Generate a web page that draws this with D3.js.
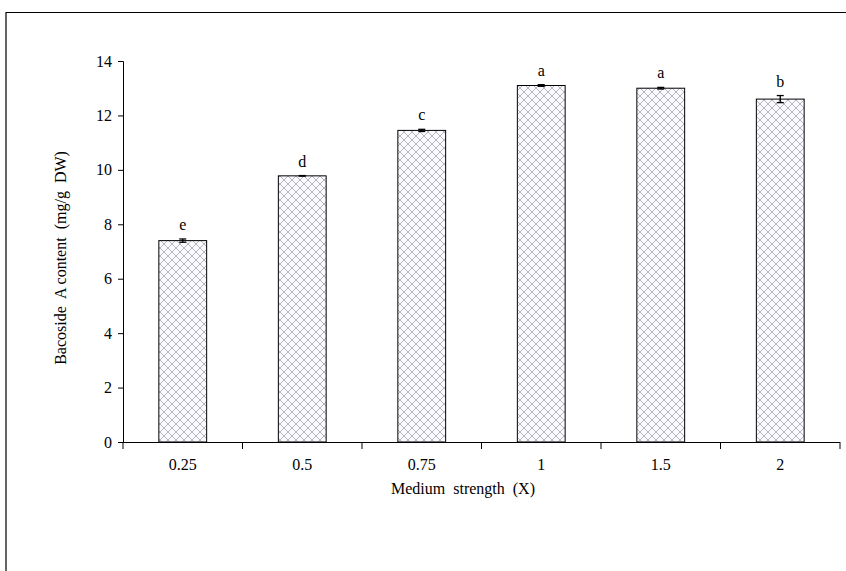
<!DOCTYPE html>
<html>
<head>
<meta charset="utf-8">
<script src="https://cdn.jsdelivr.net/npm/d3@7"></script>
<style>
  body { margin: 0; background: #fff; }
  svg { display: block; }
  text { font-family: "Liberation Serif", "Times New Roman", serif; fill: #000; }
</style>
</head>
<body>
<svg id="chart" width="846" height="571"></svg>
<script>
// Medium strength treatments and Bacoside A content
const categories = ["0.25", "0.5", "0.75", "1", "1.5", "2"];
const values = [7.4, 9.78, 11.45, 13.1, 13.0, 12.6];
const errors = [0.06, 0.01, 0.04, 0.03, 0.03, 0.13];
const letters = ["e", "d", "c", "a", "a", "b"];
const yTicks = [0, 2, 4, 6, 8, 10, 12, 14];

const svg = d3.select("#chart");
const W = 846, H = 571;
const left = 123, right = 840;

// Outer frame: top and left edges
svg.append("path")
  .attr("d", `M6,${H} L6,12.5 L${W},12.5`)
  .attr("fill", "none").attr("stroke", "#000").attr("stroke-width", 1.2);

// Cross-hatch fill for the bars
const defs = svg.append("defs");
const pat = defs.append("pattern")
  .attr("id", "hatch").attr("patternUnits", "userSpaceOnUse")
  .attr("width", 8).attr("height", 8);
pat.append("rect").attr("width", 8).attr("height", 8).attr("fill", "#fafafc");
pat.append("path")
  .attr("d", "M0,0 L8,8 M8,0 L0,8 M-1,7 L1,9 M7,-1 L9,1 M-1,1 L1,-1 M7,9 L9,7")
  .attr("stroke", "#b5b5c6").attr("stroke-width", 1);

const x = d3.scaleBand()
  .domain(categories)
  .range([left, right])
  .paddingInner(0.6).paddingOuter(0.3);

const y = d3.scaleLinear().domain([0, 14]).range([442, 61]);

// Bars
svg.append("g").selectAll("rect").data(values).join("rect")
  .attr("x", (d, i) => x(categories[i]))
  .attr("y", d => y(d))
  .attr("width", x.bandwidth())
  .attr("height", d => y(0) - y(d))
  .attr("fill", "url(#hatch)")
  .attr("stroke", "#000").attr("stroke-width", 1);

// Error bars
const eb = svg.append("g").attr("stroke", "#000").attr("stroke-width", 1.3);
values.forEach((v, i) => {
  const cx = x(categories[i]) + x.bandwidth() / 2;
  const e = errors[i];
  eb.append("line").attr("x1", cx).attr("x2", cx).attr("y1", y(v + e)).attr("y2", y(v - e));
  eb.append("line").attr("x1", cx - 3.5).attr("x2", cx + 3.5).attr("y1", y(v + e)).attr("y2", y(v + e));
  eb.append("line").attr("x1", cx - 3.5).attr("x2", cx + 3.5).attr("y1", y(v - e)).attr("y2", y(v - e));
});

// Significance letters
svg.append("g").selectAll("text").data(values).join("text")
  .attr("x", (d, i) => x(categories[i]) + x.bandwidth() / 2)
  .attr("y", (d, i) => y(d + errors[i]) - 9)
  .attr("text-anchor", "middle")
  .attr("font-size", 16)
  .text((d, i) => letters[i]);

// Y axis
const yAxis = d3.axisLeft(y).tickValues(yTicks).tickSize(5).tickPadding(6).tickFormat(d3.format("d"));
const gy = svg.append("g").attr("transform", `translate(${left},0)`).call(yAxis);
gy.selectAll("text").attr("font-size", 16).attr("font-family", "Liberation Serif, serif").attr("fill", "#000");
gy.selectAll("line, path").attr("stroke", "#000");

// X axis: ticks at category boundaries
const xAxisG = svg.append("g").attr("transform", `translate(0,${y(0)})`);
xAxisG.append("line").attr("x1", left).attr("x2", right).attr("y1", 0.5).attr("y2", 0.5)
  .attr("stroke", "#000");
const bounds = d3.range(categories.length + 1).map(i => left + i * (right - left) / categories.length);
xAxisG.selectAll("line.tick").data(bounds).join("line")
  .attr("class", "tick")
  .attr("x1", d => d).attr("x2", d => d).attr("y1", 0).attr("y2", 7)
  .attr("stroke", "#000");
xAxisG.selectAll("text").data(categories).join("text")
  .attr("x", d => x(d) + x.bandwidth() / 2)
  .attr("y", 28)
  .attr("text-anchor", "middle")
  .attr("font-size", 16)
  .text(d => d);

// Axis titles
svg.append("text")
  .attr("x", 463).attr("y", 494)
  .attr("text-anchor", "middle").attr("font-size", 16)
  .attr("xml:space", "preserve")
  .text("Medium  strength  (X)");

svg.append("text")
  .attr("transform", "translate(66,258) rotate(-90)")
  .attr("text-anchor", "middle").attr("font-size", 16)
  .attr("xml:space", "preserve")
  .text("Bacoside  A content  (mg/g  DW)");
</script>
</body>
</html>
